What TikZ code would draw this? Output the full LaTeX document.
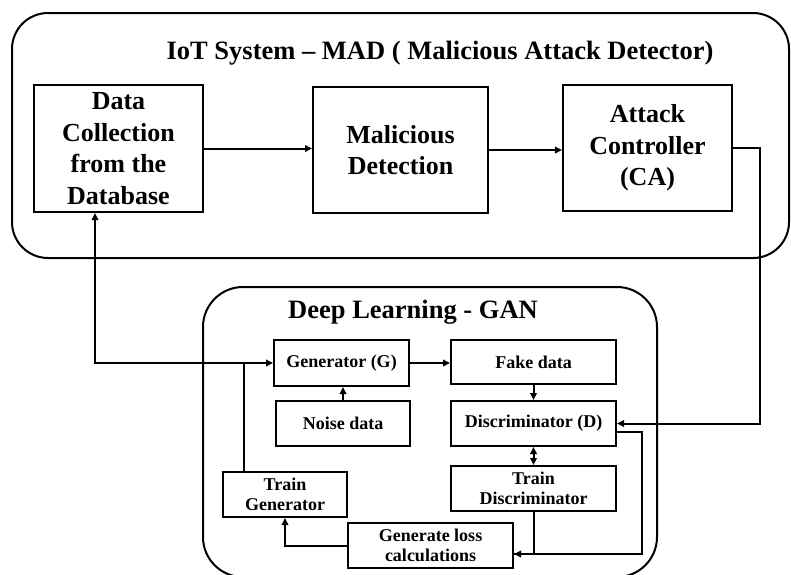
\documentclass[tikz,border=0pt]{standalone}
\usepackage{fontspec}
\setmainfont{Liberation Serif}
\usetikzlibrary{arrows.meta}
\begin{document}
\begin{tikzpicture}[x=1pt,y=-1pt,line width=2pt,
  >={Triangle[length=7pt,width=6.5pt]},
  title/.style={font=\bfseries\fontsize{26.5}{31.5}\selectfont},
  bigbox/.style={draw,align=center,inner sep=0pt,font=\bfseries\fontsize{26}{31.7}\selectfont},
  smallbox/.style={draw,align=center,inner sep=0pt,font=\bfseries\fontsize{18}{20.5}\selectfont}]
\clip (0,0) rectangle (791,574);
% containers
\draw[rounded corners=36pt] (12,13) rectangle (789,258);
\draw[rounded corners=40pt] (203,287) rectangle (657,577);
\node[title] (iot) at (440,53) {IoT System – MAD ( Malicious Attack Detector)};
\node[title] (gan) at (413,312) {Deep Learning - GAN};
% IoT system
\node[bigbox,minimum width=169pt,minimum height=127pt] (datacol) at (118.5,148.5) {Data\\Collection\\from the\\Database};
\node[bigbox,minimum width=175pt,minimum height=126pt] (malic) at (400.5,150) {Malicious\\Detection};
\node[bigbox,minimum width=169pt,minimum height=126pt] (attack) at (647.5,148) {Attack\\Controller\\(CA)};
% GAN
\node[smallbox,minimum width=135pt,minimum height=46pt] (gen) at (341.5,363) {Generator (G)};
\node[smallbox,minimum width=134pt,minimum height=45pt] (noise) at (343,423.5) {Noise data};
\node[smallbox,minimum width=165pt,minimum height=44pt] (fake) at (533.5,362) {Fake data};
\node[smallbox,minimum width=165pt,minimum height=45pt] (disc) at (533.5,423.5) {Discriminator (D)};
\node[smallbox,minimum width=165pt,minimum height=45pt] (traind) at (533.5,488.5) {Train\\Discriminator};
\node[smallbox,minimum width=124pt,minimum height=45pt] (traing) at (285,494.5) {Train\\Generator};
\node[smallbox,minimum width=165pt,minimum height=45pt] (loss) at (430.5,545.5) {Generate loss\\calculations};
\coordinate (j) at (244,363);
\coordinate (lossin) at ([yshift=-8.5pt]loss.east);
% connectors
\draw[->] (datacol.east) -- (datacol.east -| malic.west);
\draw[->] (malic.east) -- (malic.east -| attack.west);
\draw[->] (attack.east) -- ++(27,0) |- (disc.east);
\draw (traing.north -| j) -- (j);
\draw[->] (j) -- (gen.west);
\draw[->] (j) -| ([xshift=-23.5pt]datacol.south);
\draw[->] (noise.north) -- (noise.north |- gen.south);
\draw[->] (gen.east) -- (gen.east -| fake.west);
\draw[->] (fake.south) -- (disc.north);
\draw[<->] (disc.south) -- (traind.north);
\draw[->] (traind.south) |- (lossin);
\draw ([yshift=-8.5pt]disc.east) -- ++(25,0) |- (lossin);
\draw[->] (loss.west) -| (traing.south);
\end{tikzpicture}
\end{document}
